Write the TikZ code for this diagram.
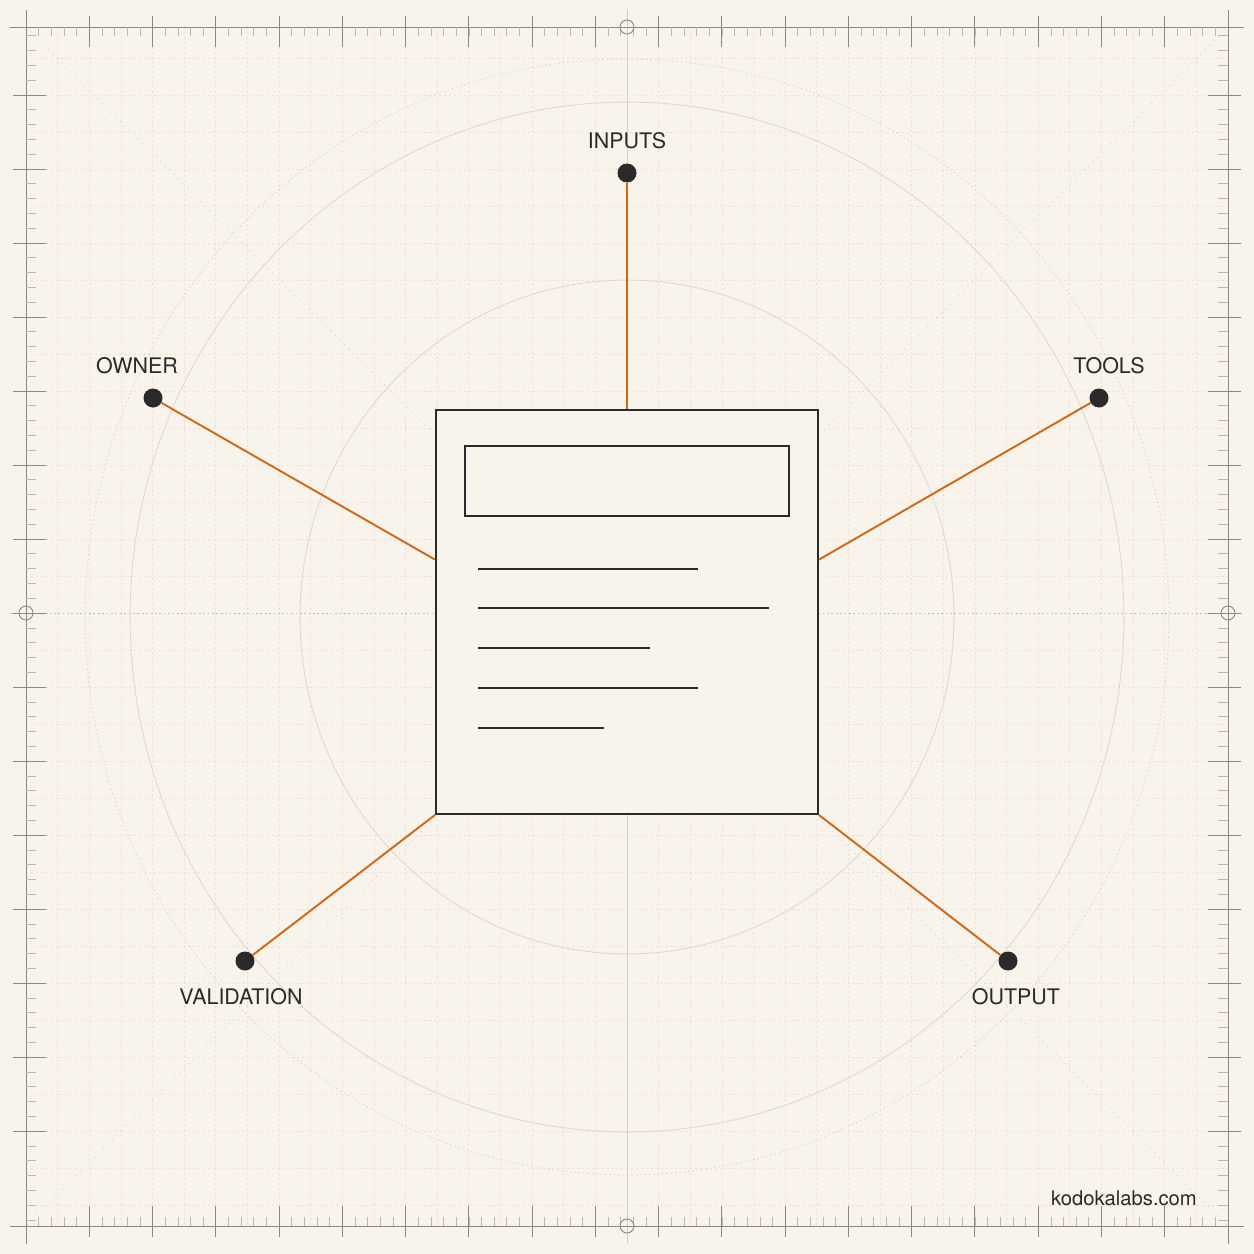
\documentclass[tikz,border=0pt]{standalone}
\usepackage{fontspec}
\setmainfont{TeX Gyre Heros}
\usetikzlibrary{positioning,calc}

\definecolor{paper}{RGB}{248,244,236}
\definecolor{ink}{RGB}{42,42,42}
\definecolor{rust}{RGB}{208,104,24}
\definecolor{faint}{RGB}{230,224,213}
\definecolor{rulegrey}{RGB}{140,135,128}
\definecolor{ringgrey}{RGB}{222,216,206}

\begin{document}
\begin{tikzpicture}[x=0.02cm, y=-0.02cm,
		hub/.style={circle, fill=ink, draw=none, minimum size=0.38cm, inner sep=0pt},
		tag/.style={inner sep=0pt, text=ink, font=\fontsize{12.2}{14}\selectfont},
		wire/.style={draw=rust, line width=1.1pt},
		doc/.style={rectangle, draw=ink, fill=paper, line width=1.1pt, minimum width=7.64cm, minimum height=8.08cm, inner sep=0pt},
		headbox/.style={rectangle, draw=ink, line width=1.1pt, minimum width=6.48cm, minimum height=1.4cm, inner sep=0pt},
		bar/.style={draw=ink, line width=1pt},
		gridline/.style={faint, line width=0.4pt, dash pattern=on 1.2pt off 1.6pt},
		ringline/.style={ringgrey, line width=0.5pt},
		ruler/.style={rulegrey, line width=0.5pt},
		minortick/.style={rulegrey!60, line width=0.35pt}
]

\fill[paper] (0,0) rectangle (1254,1254);
\useasboundingbox (0,0) rectangle (1254,1254);

\foreach \i in {1,...,37}
	\draw[gridline] ({26+\i*31.63},27) -- ({26+\i*31.63},1226);
\foreach \j in {-15,...,-1,1,2,...,16}
	\draw[gridline] (26,{613+\j*37}) -- (1228,{613+\j*37});

\draw[gridline, rulegrey!40, dash pattern=on 0.6pt off 3pt] (26,27) -- (1228,1226);
\draw[gridline, rulegrey!40, dash pattern=on 0.6pt off 3pt] (1228,27) -- (26,1226);

\draw[ringline] (627,617) ellipse [x radius=6.54cm, y radius=6.74cm];
\draw[ringline] (627,617) ellipse [x radius=9.94cm, y radius=10.3cm];
\draw[ringline, dash pattern=on 1pt off 1.5pt] (627,617) ellipse [x radius=10.84cm, y radius=11.16cm];

\draw[ruler, rulegrey!55, dash pattern=on 1pt off 1.5pt] (10,613) -- (1244,613);
\draw[ruler, rulegrey!40] (627,10) -- (627,1244);

\draw[ruler] (10,27) -- (1244,27);
\draw[ruler] (10,1226) -- (1244,1226);
\draw[ruler] (26,10) -- (26,1244);
\draw[ruler] (1228,10) -- (1228,1244);

\foreach \m in {1,...,94} {
	\draw[minortick] ({26+\m*12.652},27) -- ++(0,9);
	\draw[minortick] ({26+\m*12.652},1226) -- ++(0,-9);
}
\foreach \m in {-39,...,41} {
	\draw[minortick] (26,{613+\m*14.8}) -- ++(10,0);
	\draw[minortick] (1228,{613+\m*14.8}) -- ++(-10,0);
}
\foreach \k in {1,...,18} {
	\draw[ruler] ({26+\k*63.26},16) -- ++(0,31);
	\draw[ruler] ({26+\k*63.26},1206) -- ++(0,31);
}
\foreach \k in {-7,...,7} {
	\draw[ruler] (13,{613+\k*74}) -- ++(33,0);
	\draw[ruler] (1208,{613+\k*74}) -- ++(33,0);
}
\foreach \p in {(627,27),(26,613),(1228,613),(627,1226)}
	\draw[ruler] \p circle[radius=0.14cm];

\node[doc] (doc) at (627,612) {};
\node[headbox, below=0.72cm of doc.north] (head) {};
\foreach \y/\xe in {569/698, 608/769, 648/650, 688/698, 728/604}
	\draw[bar] (478,\y) -- (\xe,\y);

\coordinate (docW) at ($(doc.north west)!0.371!(doc.south west)$);
\coordinate (docE) at ($(doc.north east)!0.371!(doc.south east)$);

\node[hub] (inputs) at (627,173) {};
\node[hub] (owner) at (153,398) {};
\node[hub] (tools) at (1099,398) {};
\node[hub] (validation) at (245,961) {};
\node[hub] (output) at (1008,961) {};

\draw[wire] (inputs) -- (doc.north);
\draw[wire] (owner) -- (docW);
\draw[wire] (tools) -- (docE);
\draw[wire] (validation) -- (doc.south west);
\draw[wire] (output) -- (doc.south east);

\node[tag, above=0.28cm of inputs] (inputsTag) {INPUTS};
\node[tag, above=0.28cm of owner, xshift=-0.32cm] (ownerTag) {OWNER};
\node[tag, above=0.28cm of tools, xshift=0.2cm] (toolsTag) {TOOLS};
\node[tag, below=0.34cm of validation, xshift=-0.08cm] (validationTag) {VALIDATION};
\node[tag, below=0.34cm of output, xshift=0.16cm] (outputTag) {OUTPUT};
\node[tag, font=\fontsize{11.5}{14}\selectfont] (site) at (1124,1198) {kodokalabs.com};

\end{tikzpicture}
\end{document}
